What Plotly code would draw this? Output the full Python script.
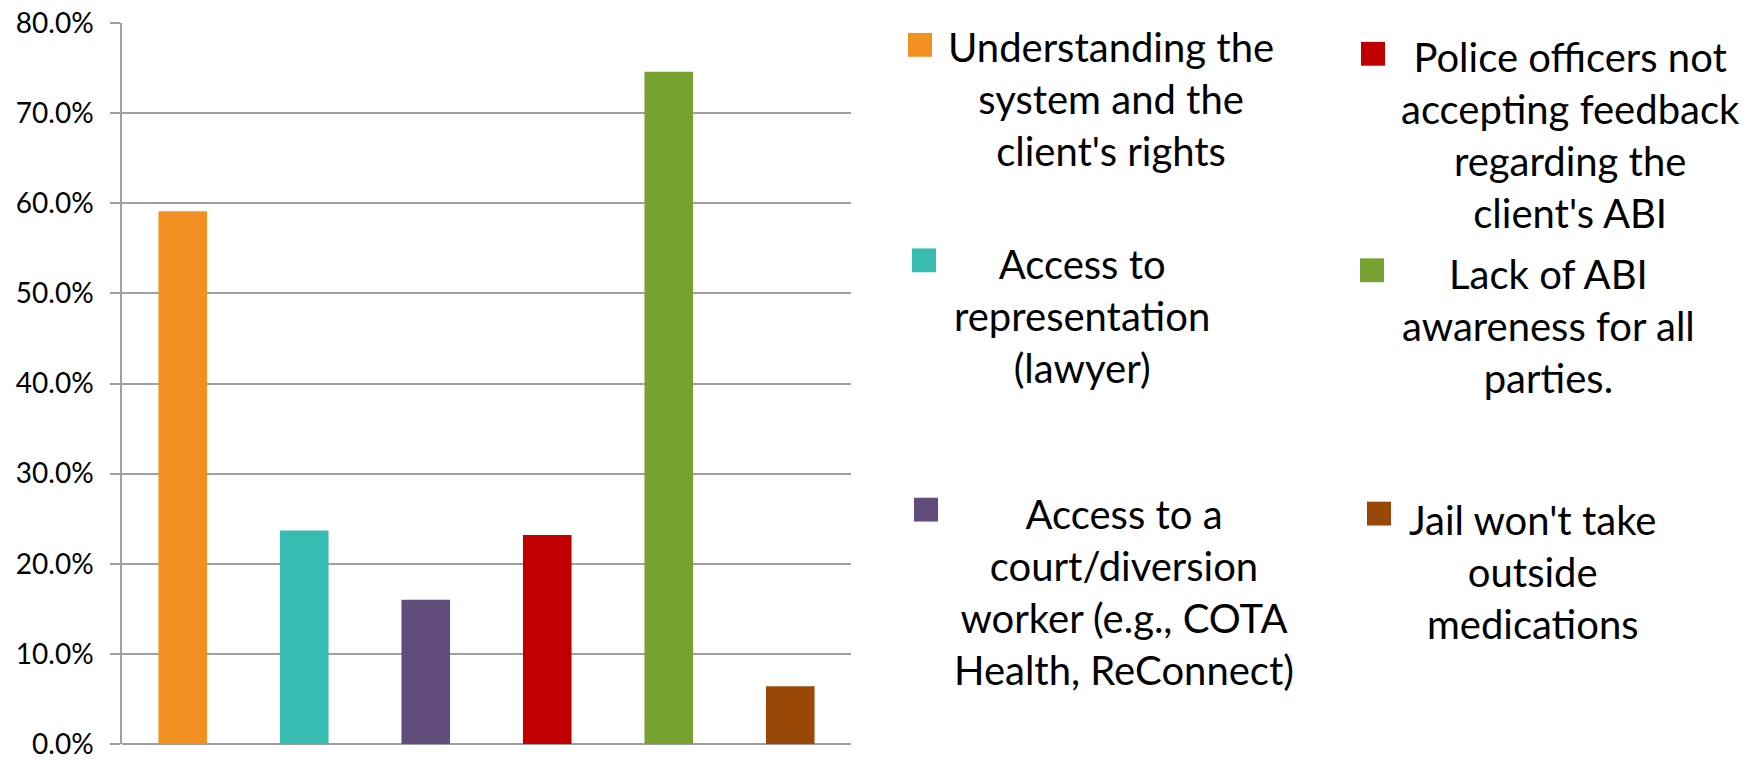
import plotly.graph_objects as go

# categories (as wrapped in the legend) and their shares
categories = [
    "Understanding the<br>system and the<br>client's rights",
    "Access to<br>representation<br>(lawyer)",
    "Access to a<br>court/diversion<br>worker (e.g., COTA<br>Health, ReConnect)",
    "Police officers not<br>accepting feedback<br>regarding the<br>client's ABI",
    "Lack of ABI<br>awareness for all<br>parties.",
    "Jail won't take<br>outside<br>medications",
]
values = [0.591, 0.237, 0.160, 0.232, 0.746, 0.064]
colors = ["#F29121", "#36BCB0", "#624C7C", "#C00000", "#78A22F", "#994807"]

W, H = 1754, 760
ML, MT, MB = 122, 23, 11
PLOT_RIGHT = 851


def px_x(p):
    return (p - ML) / (W - ML)


def px_y(p):
    return (H - MB - p) / (H - MT - MB)


fig = go.Figure()
fig.add_trace(go.Bar(
    x=categories,
    y=values,
    marker=dict(color=colors, line=dict(width=0)),
    showlegend=False,
    hovertemplate="%{y:.1%}<extra></extra>",
))

# legend in two columns (column-major, as in the original), pixel positions
swatch_pos = [(908, 33), (912, 250), (914, 501), (1361, 42), (1360, 260), (1367, 505)]
text_pos = [(1111, 100), (1082, 318), (1124, 596), (1570, 136), (1548, 328), (1532, 576)]
sw = 24

shapes = []
annotations = []
for lab, col, (sx, sy), (tx, ty) in zip(categories, colors, swatch_pos, text_pos):
    shapes.append(dict(
        type="rect", xref="paper", yref="paper",
        x0=px_x(sx), x1=px_x(sx + sw), y0=px_y(sy + sw), y1=px_y(sy),
        fillcolor=col, line=dict(width=0),
    ))
    annotations.append(dict(
        text=lab, xref="paper", yref="paper",
        x=px_x(tx), y=px_y(ty), xanchor="center", yanchor="middle",
        align="center", showarrow=False,
        font=dict(family="Lato", size=40, color="black"),
    ))

fig.update_layout(
    width=W, height=H,
    margin=dict(l=ML, r=0, t=MT, b=MB),
    paper_bgcolor="white",
    plot_bgcolor="white",
    bargap=0.6,
    font=dict(family="Lato", color="black"),
    shapes=shapes,
    annotations=annotations,
    xaxis=dict(
        domain=[0, px_x(PLOT_RIGHT)],
        range=[-0.5, 5.5],
        showticklabels=False,
        showgrid=False,
        showline=False,
        zeroline=False,
        ticks="",
    ),
    yaxis=dict(
        range=[0, 0.8],
        dtick=0.1,
        tickformat=".1%",
        tickfont=dict(family="Lato", size=28, color="black"),
        ticklabeloverflow="allow",
        showgrid=True,
        gridcolor="#A0A0A0",
        gridwidth=1.5,
        zeroline=True,
        zerolinecolor="#A0A0A0",
        zerolinewidth=1.5,
        showline=True,
        linecolor="#A0A0A0",
        linewidth=1.5,
        ticks="outside",
        ticklen=10,
        tickwidth=1.5,
        tickcolor="#A0A0A0",
        ticklabelstandoff=11,
    ),
)

# the page's default body margin would shift the whole chart by 8px
fig.write_html("out.html", config={"displayModeBar": False},
               post_script="document.body.style.margin='0';")
